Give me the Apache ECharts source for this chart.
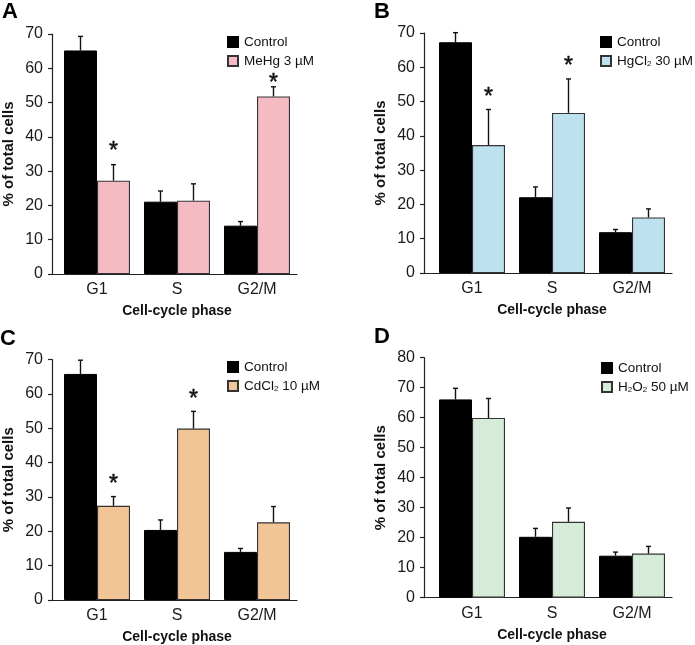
<!DOCTYPE html>
<html>
<head>
<meta charset="utf-8">
<script src="https://cdn.jsdelivr.net/npm/echarts@6/dist/echarts.min.js"></script>
<style>
html,body{margin:0;padding:0;background:#fff;}
#chart{width:695px;height:645px;}
</style>
</head>
<body>
<div id="chart"></div>
<script>
// ---- data ----
const categories = ['G1', 'S', 'G2/M'];
const panelLetters = ['A', 'B', 'C', 'D'];
const controlName = 'Control';
const treatmentNames = ['MeHg 3 µM', 'HgCl2 30 µM', 'CdCl2 10 µM', 'H2O2 50 µM'];
const treatmentLegendText = ['MeHg 3 µM', 'HgCl{sub|2} 30 µM', 'CdCl{sub|2} 10 µM', 'H{sub|2}O{sub|2} 50 µM'];
const yMaxes = [70, 70, 70, 80];

const controlA = [65.2, 21.1, 14.1];
const controlSemA = [4.1, 3.1, 1.2];
const treatA = [27.2, 21.4, 51.8];
const treatSemA = [4.7, 4.9, 2.8];
const starA = [37.3, null, 57.4];

const controlB = [67.3, 22.1, 11.9];
const controlSemB = [2.8, 3.0, 0.8];
const treatB = [37.3, 46.7, 16.2];
const treatSemB = [10.4, 9.9, 2.5];
const starB = [53.0, 61.9, null];

const controlC = [65.8, 20.4, 14.0];
const controlSemC = [4.0, 2.9, 1.0];
const treatC = [27.4, 49.9, 22.6];
const treatSemC = [2.7, 5.0, 4.6];
const starC = [35.4, 60.1, null];

const controlD = [66.1, 20.3, 14.0];
const controlSemD = [3.7, 2.8, 1.2];
const treatD = [59.9, 25.3, 14.7];
const treatSemD = [6.5, 4.6, 2.4];
const starD = [null, null, null];

const controls = [controlA, controlB, controlC, controlD];
const controlSems = [controlSemA, controlSemB, controlSemC, controlSemD];
const treats = [treatA, treatB, treatC, treatD];
const treatSems = [treatSemA, treatSemB, treatSemC, treatSemD];
const stars = [starA, starB, starC, starD];

// ---- styles / layout ----
const treatColors = ['#f4bcc2', '#bde1ef', '#f2c596', '#d5ecd9'];
const frames = [
  {left: 50, top: 34, width: 247, height: 240},
  {left: 424, top: 33, width: 248, height: 240},
  {left: 50, top: 359.5, width: 247, height: 240.5},
  {left: 424, top: 357.7, width: 248, height: 240}
];
const barLefts = [57, 432, 57, 432];
const barRights = [297, 672, 297, 672];
const legendPos = [{left: 227, top: 35}, {left: 600, top: 35}, {left: 227, top: 360}, {left: 601, top: 361}];
const letterPos = [{left: 2, top: 1}, {left: 374, top: 1}, {left: 0, top: 328}, {left: 374, top: 326}];
const BAR_FRAC = 0.4125;

const grid = [], xAxis = [], yAxis = [], series = [], legend = [], title = [];
const tickFont = {fontFamily: 'Liberation Sans', fontSize: 16, color: '#1a1a1a'};
const nameFontX = {fontFamily: 'Liberation Sans', fontSize: 14, fontWeight: 'bold', color: '#111'};
const nameFontY = {fontFamily: 'Liberation Sans', fontSize: 15, fontWeight: 'bold', color: '#111'};

function errRender(side) {
  return function (params, api) {
    const ci = api.value(0), v = api.value(1), e = api.value(2);
    const base = api.coord([ci, v]);
    const top = api.coord([ci, v + e]);
    const band = api.size([1, 0])[0];
    const x = base[0] + side * band * BAR_FRAC / 2;
    const st = {stroke: '#111', lineWidth: 1.4};
    return {type: 'group', children: [
      {type: 'line', shape: {x1: x, y1: base[1], x2: x, y2: top[1]}, style: st},
      {type: 'line', shape: {x1: x - 2.5, y1: top[1], x2: x + 2.5, y2: top[1]}, style: st}
    ]};
  };
}
function starRender(params, api) {
  const ci = api.value(0), v = api.value(1);
  const p = api.coord([ci, v]);
  const band = api.size([1, 0])[0];
  const x = p[0] + band * BAR_FRAC / 2;
  return {type: 'text', x: x, y: p[1] + 6, style: {text: '*', fontFamily: 'Liberation Sans', fontSize: 23, fill: '#111', stroke: '#111', lineWidth: 0.5, align: 'center', verticalAlign: 'middle'}};
}

for (let p = 0; p < 4; p++) {
  const f = frames[p];
  const gf = 2 * p, gb = 2 * p + 1;
  grid.push({left: f.left, top: f.top, width: f.width, height: f.height, containLabel: false});
  grid.push({left: barLefts[p], top: f.top, width: barRights[p] - barLefts[p], height: f.height, containLabel: false});
  // frame axes
  xAxis.push({gridIndex: gf, type: 'value', min: 0, max: 1, axisLine: {show: true, onZero: false, lineStyle: {color: '#222', width: 1.2}}, axisTick: {show: false}, axisLabel: {show: false}, splitLine: {show: false}});
  yAxis.push({gridIndex: gf, type: 'value', min: 0, max: yMaxes[p], interval: 10,
    axisLine: {show: true, lineStyle: {color: '#222', width: 1.2}},
    axisTick: {show: true, inside: false, length: 4, lineStyle: {color: '#222', width: 1.2}},
    axisLabel: Object.assign({margin: 9}, tickFont), splitLine: {show: false},
    name: '% of total cells', nameLocation: 'middle', nameRotate: 90, nameGap: 36, nameTextStyle: nameFontY});
  // bar axes
  xAxis.push({gridIndex: gb, type: 'category', data: categories, boundaryGap: true,
    axisLine: {show: false}, axisTick: {show: false},
    axisLabel: Object.assign({margin: 8}, tickFont), splitLine: {show: false},
    name: 'Cell-cycle phase', nameLocation: 'middle', nameGap: 30, nameTextStyle: nameFontX});
  yAxis.push({gridIndex: gb, type: 'value', min: 0, max: yMaxes[p], show: false, splitLine: {show: false}});

  series.push({name: controlName, type: 'bar', xAxisIndex: gb, yAxisIndex: gb, data: controls[p],
    barWidth: (BAR_FRAC * 100) + '%', barGap: '0%', itemStyle: {color: '#000', borderColor: '#000', borderWidth: 1}, z: 2});
  series.push({name: treatmentNames[p], type: 'bar', xAxisIndex: gb, yAxisIndex: gb, data: treats[p],
    barWidth: (BAR_FRAC * 100) + '%', barGap: '0%', itemStyle: {color: treatColors[p], borderColor: '#333', borderWidth: 1.1}, z: 2});
  series.push({type: 'custom', xAxisIndex: gb, yAxisIndex: gb, renderItem: errRender(-1), z: 5,
    data: controls[p].map((v, i) => [i, v, controlSems[p][i]]), silent: true});
  series.push({type: 'custom', xAxisIndex: gb, yAxisIndex: gb, renderItem: errRender(1), z: 5,
    data: treats[p].map((v, i) => [i, v, treatSems[p][i]]), silent: true});
  const sd = [];
  stars[p].forEach((v, i) => { if (v !== null) sd.push([i, v]); });
  if (sd.length) series.push({type: 'custom', xAxisIndex: gb, yAxisIndex: gb, renderItem: starRender, z: 6, data: sd, silent: true});

  const tl = treatmentLegendText[p];
  legend.push({left: legendPos[p].left, top: legendPos[p].top, orient: 'vertical', padding: 0,
    itemWidth: 10, itemHeight: 10, itemGap: 5, icon: 'rect', selectedMode: false,
    data: [controlName, treatmentNames[p]],
    formatter: function (name) { return name === controlName ? controlName : tl; },
    textStyle: {fontFamily: 'Liberation Sans', fontSize: 13.5, color: '#111', padding: [0, 0, 0, 1],
      rich: {sub: {fontFamily: 'Liberation Sans', fontSize: 8, verticalAlign: 'bottom', padding: [5, 0, 0, 0], color: '#111'}}}});
  title.push({text: panelLetters[p], left: letterPos[p].left, top: letterPos[p].top, padding: 0,
    textStyle: {fontFamily: 'Liberation Sans', fontSize: 22, fontWeight: 'bold', color: '#000'}});
}

const chart = echarts.init(document.getElementById('chart'), null, {renderer: 'canvas'});
chart.setOption({backgroundColor: '#fff', animation: false, title, grid, xAxis, yAxis, series, legend});
</script>
</body>
</html>
